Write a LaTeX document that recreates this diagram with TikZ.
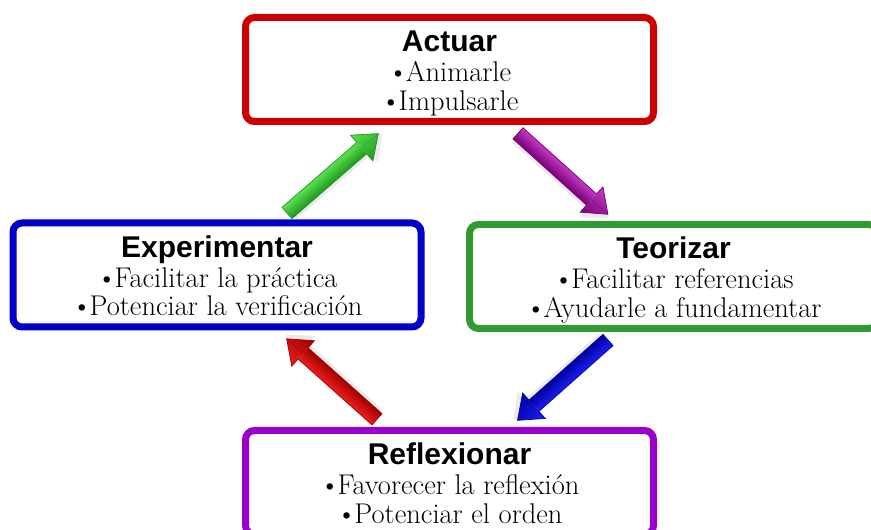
\documentclass[tikz,border=0pt]{standalone}
\usepackage{fontspec}
\newfontfamily\titlefont{Liberation Sans}
\definecolor{cRed}{RGB}{204,0,0}
\definecolor{cBlue}{RGB}{0,0,200}
\definecolor{cGreen}{RGB}{51,153,51}
\definecolor{cPurple}{RGB}{153,0,204}
\definecolor{gL}{RGB}{160,250,150}\definecolor{gM}{RGB}{90,225,80}\definecolor{gD}{RGB}{30,150,30}
\definecolor{pL}{RGB}{235,150,235}\definecolor{pM}{RGB}{195,60,195}\definecolor{pD}{RGB}{120,0,120}
\definecolor{rL}{RGB}{255,120,120}\definecolor{rM}{RGB}{238,30,30}\definecolor{rD}{RGB}{160,0,0}
\definecolor{bL}{RGB}{120,120,255}\definecolor{bM}{RGB}{30,30,240}\definecolor{bD}{RGB}{0,0,160}
\tikzset{
  cbox/.style={draw, line width=7pt, rounded corners=9pt, fill=white,
    minimum width=408pt, minimum height=104pt, inner sep=0pt},
  ttl/.style={font=\titlefont\bfseries\fontsize{30}{30}\selectfont, anchor=base, inner sep=0pt},
  bdy/.style={font=\fontsize{28.5}{28.5}\selectfont, anchor=base, inner sep=0pt},
}
\newcommand\bul{\textbullet\kern-2.5pt}
\newcommand\cyclebox[7]{%
  \node[cbox, draw=#2] (#1) at (#3,#4) {};
  \node[ttl] (#1-t) at ([yshift=17.5pt]#1.center) {#5};
  \node[bdy] (#1-a) at ([yshift=-12.5pt]#1.center) {\bul#6};
  \node[bdy] (#1-b) at ([yshift=-41pt]#1.center) {\bul#7};
}
% block arrow: start coordinate, angle, length, light, mid, dark
\newcommand\blockarrow[6]{%
  \begin{scope}[transform canvas={shift={(#1)}, rotate=#2}]
    \fill[black, opacity=0.08] (3,-11) -- (#3-19,-11) -- (#3-19,-21) -- (#3+3,-3) -- (#3-19,15) -- (#3-19,4) -- (3,4) -- cycle;
    \path[top color=#5, middle color=#4, bottom color=#6]
      (0,-7.5) rectangle (#3-22,7.5);
    \path[top color=#5, middle color=#4, bottom color=#6]
      (#3-22,-17) -- (#3,0) -- (#3-22,17) -- cycle;
    \draw[#6, line width=0.7pt, line join=miter]
      (0,-7.5) -- (#3-22,-7.5) -- (#3-22,-17) -- (#3,0) -- (#3-22,17) -- (#3-22,7.5) -- (0,7.5) -- cycle;
    \draw[#6, line width=0.5pt, opacity=0.6] (#3-22,0) -- (#3,0);
  \end{scope}
}
\begin{document}
\begin{tikzpicture}[x=1pt,y=1pt]
\useasboundingbox (0,0) rectangle (871,530);
\fill[white] (0,0) rectangle (871,530);
\cyclebox{act}{cRed}{449.5}{460.5}{Actuar}{Animarle}{Impulsarle}
\cyclebox{exp}{cBlue}{217}{255}{Experimentar}{Facilitar la práctica}{Potenciar la verificación}
\cyclebox{teo}{cGreen}{673.5}{253.5}{Teorizar}{Facilitar referencias}{Ayudarle a fundamentar}
\cyclebox{ref}{cPurple}{449.5}{47.5}{Reflexionar}{Favorecer la reflexión}{Potenciar el orden}
\coordinate (gs) at (287,317);
\coordinate (ps) at (518,396.7);
\coordinate (rs) at (377,110.7);
\coordinate (bs) at (608,190);
\blockarrow{gs}{41}{121}{gL}{gM}{gD}
\blockarrow{ps}{-42}{121}{pL}{pM}{pD}
\blockarrow{rs}{138.3}{121}{rL}{rM}{rD}
\blockarrow{bs}{221.6}{121}{bL}{bM}{bD}
\end{tikzpicture}
\end{document}
